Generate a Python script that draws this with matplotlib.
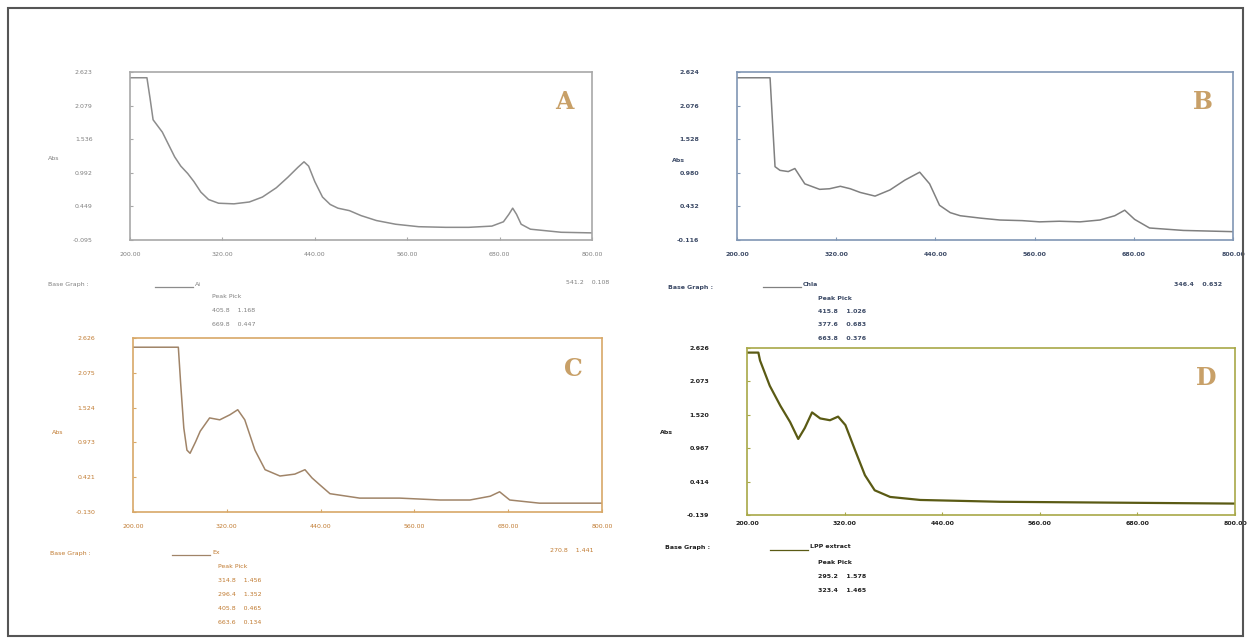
import matplotlib.pyplot as plt
from matplotlib.patches import Rectangle
import numpy as np

W, H = 1251, 643

# wavelength (nm) / absorbance
wl_a = [200, 222, 226, 230, 236, 242, 250, 258, 266, 275, 283, 292, 302, 315, 335, 355, 372,
        390, 405, 418, 426, 432, 440, 450, 460, 470, 485, 500, 520, 545, 575, 610, 640, 670,
        685, 692, 697, 702, 708, 720, 760, 800]
abs_a = [2.53, 2.53, 2.2, 1.85, 1.75, 1.65, 1.45, 1.25, 1.10, 0.98, 0.85, 0.68, 0.56, 0.50,
         0.49, 0.52, 0.60, 0.75, 0.92, 1.08, 1.17, 1.10, 0.85, 0.60, 0.48, 0.42, 0.38, 0.30,
         0.22, 0.16, 0.12, 0.11, 0.11, 0.13, 0.20, 0.32, 0.42, 0.32, 0.16, 0.08, 0.03, 0.02]

wl_b = [200, 240, 243, 246, 252, 262, 270, 282, 300, 312, 325, 337, 349, 367, 385, 403, 421,
        433, 445, 458, 470, 495, 518, 545, 566, 590, 615, 639, 657, 669, 681, 699, 740, 800]
abs_b = [2.53, 2.53, 1.8, 1.08, 1.02, 1.00, 1.05, 0.80, 0.71, 0.72, 0.76, 0.72, 0.66, 0.60,
         0.70, 0.86, 0.99, 0.80, 0.45, 0.33, 0.28, 0.24, 0.21, 0.20, 0.18, 0.19, 0.18, 0.21,
         0.28, 0.37, 0.22, 0.08, 0.04, 0.02]

wl_c = [200, 258, 261, 265, 269, 273, 280, 286, 298, 311, 324, 334, 343, 356, 369, 388, 407,
        420, 429, 439, 452, 490, 541, 593, 631, 657, 669, 682, 720, 800]
abs_c = [2.48, 2.48, 1.9, 1.2, 0.85, 0.80, 0.98, 1.15, 1.36, 1.33, 1.41, 1.49, 1.33, 0.85,
         0.54, 0.44, 0.47, 0.54, 0.41, 0.30, 0.16, 0.09, 0.09, 0.06, 0.06, 0.12, 0.19, 0.06,
         0.01, 0.01]

wl_d = [200, 214, 216, 228, 241, 253, 263, 271, 280, 290, 302, 312, 321, 333, 345, 357, 376,
        413, 511, 800]
abs_d = [2.55, 2.55, 2.42, 2.00, 1.67, 1.40, 1.12, 1.30, 1.56, 1.46, 1.43, 1.49, 1.35, 0.93,
         0.52, 0.27, 0.16, 0.11, 0.08, 0.05]

x_ticks = [200, 320, 440, 560, 680, 800]
x_labels = ['200.00', '320.00', '440.00', '560.00', '680.00', '800.00']

y_labels_a = ['-0.095', '0.449', '0.992', '1.536', '2.079', '2.623']
y_labels_b = ['-0.116', '0.432', '0.980', '1.528', '2.076', '2.624']
y_labels_c = ['-0.130', '0.421', '0.973', '1.524', '2.075', '2.626']
y_labels_d = ['-0.139', '0.414', '0.967', '1.520', '2.073', '2.626']

names = ['Ai', 'Chla', 'Ex', 'LPP extract']
peaks_a = ['405.8    1.168', '669.8    0.447']
peaks_b = ['415.8    1.026', '377.6    0.683', '663.8    0.376']
peaks_c = ['314.8    1.456', '296.4    1.352', '405.8    0.465', '663.6    0.134']
peaks_d = ['295.2    1.578', '323.4    1.465']
cursor = ['541.2    0.108', '346.4    0.632', '270.8    1.441', '']

fig = plt.figure(figsize=(W / 100, H / 100), dpi=100)
fig.patches.append(Rectangle((8 / W, 1 - 636 / H), 1235 / W, 628 / H, transform=fig.transFigure,
                             fill=False, edgecolor='#555555', linewidth=1.5))


def px(x, y):
    return x / W, 1 - y / H


panels = [
    # data, ylabels, box px (l, t, r, b), frame, line, text colour, bold, letter
    (wl_a, abs_a, y_labels_a, (130, 72, 592, 240), '#a8a8a8', '#8c8c8c', '#808080', 'normal', 'A'),
    (wl_b, abs_b, y_labels_b, (737, 72, 1233, 240), '#8096b4', '#808080', '#3c4a66', 'bold', 'B'),
    (wl_c, abs_c, y_labels_c, (133, 338, 602, 512), '#d8a868', '#a08468', '#c07a30', 'normal', 'C'),
    (wl_d, abs_d, y_labels_d, (747, 348, 1235, 515), '#a8a848', '#5a5a14', '#202020', 'bold', 'D'),
]

for wl, ab, ylab, (l, t, r, b), fc, lc, tc, fw, letter in panels:
    ax = fig.add_axes([l / W, 1 - b / H, (r - l) / W, (b - t) / H])
    ymin, ymax = float(ylab[0]), float(ylab[-1])
    ax.plot(wl, ab, color=lc, linewidth=1.1 if letter != 'D' else 1.6)
    ax.set_xlim(200, 800)
    ax.set_ylim(ymin, ymax)
    ax.set_xticks(x_ticks)
    ax.set_xticklabels(x_labels)
    ax.set_yticks(np.linspace(ymin, ymax, 6))
    ax.set_yticklabels(ylab)
    for s in ax.spines.values():
        s.set_color(fc)
        s.set_linewidth(1.2)
    ax.tick_params(axis='y', direction='in', length=2, color=fc, pad=27,
                   labelsize=4.5, labelcolor=tc)
    ax.tick_params(axis='x', direction='in', length=2, color=fc,
                   pad=4 if letter == 'D' else 9, labelsize=4.5, labelcolor=tc)
    for lb in ax.get_xticklabels() + ax.get_yticklabels():
        lb.set_fontweight('bold' if fw == 'bold' else 'normal')
    ax.text(0.94, 0.82, letter, transform=ax.transAxes, ha='center', va='center',
            family='DejaVu Serif', fontweight='bold', fontsize=17, color='#c8a068')

# labels and peak tables
abs_pos = [(48, 158), (672, 160), (52, 432), (660, 432)]
base_pos = [(48, 285), (668, 287), (50, 553), (665, 548)]
name_pos = [(155, 287), (763, 287), (172, 555), (770, 550)]
peak_pos = [(212, 296, 14.5), (818, 298, 13.5), (218, 567, 14), (818, 562, 14.5)]
cur_pos = [(588, 282), (1198, 284), (572, 551), (0, 0)]
peak_lists = [peaks_a, peaks_b, peaks_c, peaks_d]

for i, p in enumerate(panels):
    tc, fw = p[6], p[7]
    kw = dict(fontsize=4.5, color=tc, fontweight=fw, va='center')
    fig.text(*px(*abs_pos[i]), 'Abs', ha='left', **kw)
    fig.text(*px(*base_pos[i]), 'Base Graph :', ha='left', **kw)
    nx, ny = name_pos[i]
    fig.add_artist(plt.Line2D([nx / W, (nx + 38) / W], [1 - ny / H, 1 - ny / H],
                              color=p[5], linewidth=0.9))
    fig.text(*px(nx + 40, ny - 3), names[i], ha='left', **kw)
    x0, y0, dy = peak_pos[i]
    fig.text(*px(x0, y0), 'Peak Pick', ha='left', **kw)
    for k, s in enumerate(peak_lists[i]):
        fig.text(*px(x0, y0 + dy * (k + 1)), s, ha='left', **kw)
    if cursor[i]:
        fig.text(*px(*cur_pos[i]), cursor[i], ha='center', **kw)

plt.savefig('out.png', dpi=100)
